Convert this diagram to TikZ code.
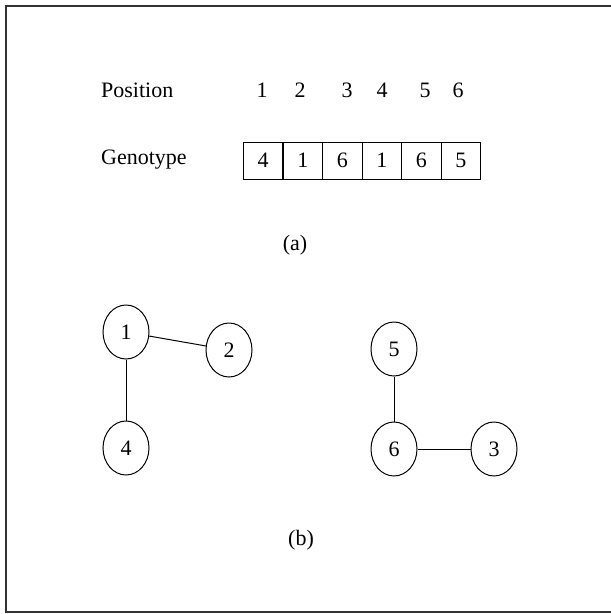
\documentclass[tikz,border=0pt]{standalone}
\usepackage{fontspec}
\setmainfont{Liberation Serif}
\usetikzlibrary{shapes.geometric}
\begin{document}
\begin{tikzpicture}[x=1pt,y=-1pt,
  txt/.style={font=\fontsize{22}{26}\selectfont, inner sep=0pt},
  vtx/.style={draw, ellipse, line width=1pt, minimum width=46pt, minimum height=54pt, inner sep=0pt, font=\fontsize{22}{26}\selectfont},
  cell/.style={draw, line width=1pt, minimum width=39.5pt, minimum height=37pt, inner sep=0pt, font=\fontsize{22}{26}\selectfont},
  edge/.style={line width=1pt}]
\useasboundingbox (0,0) rectangle (611,614);
\begin{scope}
\clip (0,0) rectangle (611,614);
\draw[line width=2pt, black!80] (640,6) -- (6,6) -- (6,612) -- (640,612);
\end{scope}
% row labels
\node[txt, anchor=west] (pos) at (101,90) {Position};
\node[txt, anchor=west] (gen) at (101,160) {Genotype};
\foreach \n/\x in {1/262,2/300,3/347,4/382,5/425,6/458}
  \node[txt] (p\n) at (\x,90) {\n};
\foreach \i/\v/\x in {1/4/263,2/1/302.75,3/6/342.25,4/1/381.75,5/6/421.25,6/5/460.75}
  \node[cell] (c\i) at (\x,160.5) {\v};
\node[txt] (a) at (295,245) {(a)};
% graph
\node[vtx] (n1) at (126,332) {1};
\node[vtx] (n2) at (229,350) {2};
\node[vtx] (n4) at (126,448) {4};
\node[vtx] (n5) at (394,349) {5};
\node[vtx] (n6) at (394,449) {6};
\node[vtx] (n3) at (494,449) {3};
\draw[edge] (n1) -- (n2);
\draw[edge] (n1) -- (n4);
\draw[edge] (n5) -- (n6);
\draw[edge] (n6) -- (n3);
\node[txt] (b) at (301,540) {(b)};
\end{tikzpicture}
\end{document}
